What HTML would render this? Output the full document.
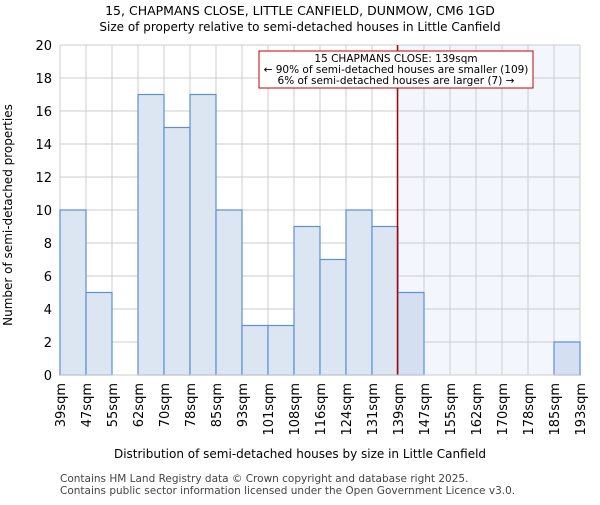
<!DOCTYPE html>
<html><head><meta charset="utf-8"><style>body{margin:0;background:#fff}svg{font-family:"DejaVu Sans","Liberation Sans",sans-serif}</style></head><body>
<svg width="600" height="500">
<g id="g"></g>
<text x="300" y="15" text-anchor="middle" font-size="12.5">15, CHAPMANS CLOSE, LITTLE CANFIELD, DUNMOW, CM6 1GD</text>
<text x="300" y="31" text-anchor="middle" font-size="12">Size of property relative to semi-detached houses in Little Canfield</text>
<text x="300" y="458" text-anchor="middle" font-size="12">Distribution of semi-detached houses by size in Little Canfield</text>
<text transform="translate(12,215) rotate(-90)" text-anchor="middle" font-size="12">Number of semi-detached properties</text>
<text x="60" y="482" font-size="10.5" fill="#444">Contains HM Land Registry data © Crown copyright and database right 2025.</text>
<text x="60" y="494" font-size="10.5" fill="#444">Contains public sector information licensed under the Open Government Licence v3.0.</text>
</svg>
<script>
const labels=["39sqm","47sqm","55sqm","62sqm","70sqm","78sqm","85sqm","93sqm","101sqm","108sqm","116sqm","124sqm","131sqm","139sqm","147sqm","155sqm","162sqm","170sqm","178sqm","185sqm","193sqm"];
const counts=[10,5,0,17,15,17,10,3,3,9,7,10,9,5,0,0,0,0,0,2];
const yTicks=[0,2,4,6,8,10,12,14,16,18,20];
const markerBin=13;
const X0=60,X1=580,Y0=375,Y1=45,bw=(X1-X0)/counts.length;
const x=i=>X0+i*bw, y=v=>Y0-(v/20)*(Y0-Y1);
const g=document.getElementById('g');const NS="http://www.w3.org/2000/svg";
function mk(t,a,p){const e=document.createElementNS(NS,t);for(const k in a)e.setAttribute(k,a[k]);(p||g).appendChild(e);return e;}
let e=mk('rect',{x:x(markerBin),y:Y1,width:X1-x(markerBin),height:Y0-Y1,fill:"#f3f6fd"});

yTicks.forEach(v=>{e=mk('line',{x1:X0,x2:X1,y1:y(v),y2:y(v),stroke:"#ccc"});
e=mk('text',{x:X0-8,y:y(v)+5,"text-anchor":"end","font-size":13});e.textContent=v;});
labels.forEach((l,i)=>{e=mk('line',{x1:x(i),x2:x(i),y1:Y1,y2:Y0,stroke:"#ccc"});
e=mk('text',{transform:`translate(${x(i)+5},${Y0+8}) rotate(-90)`,"text-anchor":"end","font-size":13});e.textContent=l;});
counts.forEach((c,i)=>{if(!c)return;e=mk('rect',{x:x(i),y:y(c),width:bw,height:Y0-y(c),fill:i>=markerBin?"#d4e0f2":"#dce6f2",stroke:"#5b8fd6","stroke-width":1.2});});
e=mk('line',{x1:x(markerBin)-0.5,x2:x(markerBin)-0.5,y1:Y1,y2:Y0,stroke:"#b00000","stroke-width":1.5});
e=mk('line',{x1:X0,x2:X1,y1:Y0,y2:Y0,stroke:"#ccc"});
e=mk('rect',{x:259,y:51,width:274,height:37,fill:"#fff",stroke:"#c00000"});
["15 CHAPMANS CLOSE: 139sqm","← 90% of semi-detached houses are smaller (109)","6% of semi-detached houses are larger (7) →"].forEach((t,i)=>{e=mk('text',{x:396,y:62+i*11,"text-anchor":"middle","font-size":10.5});e.textContent=t;});
</script>
</body></html>
